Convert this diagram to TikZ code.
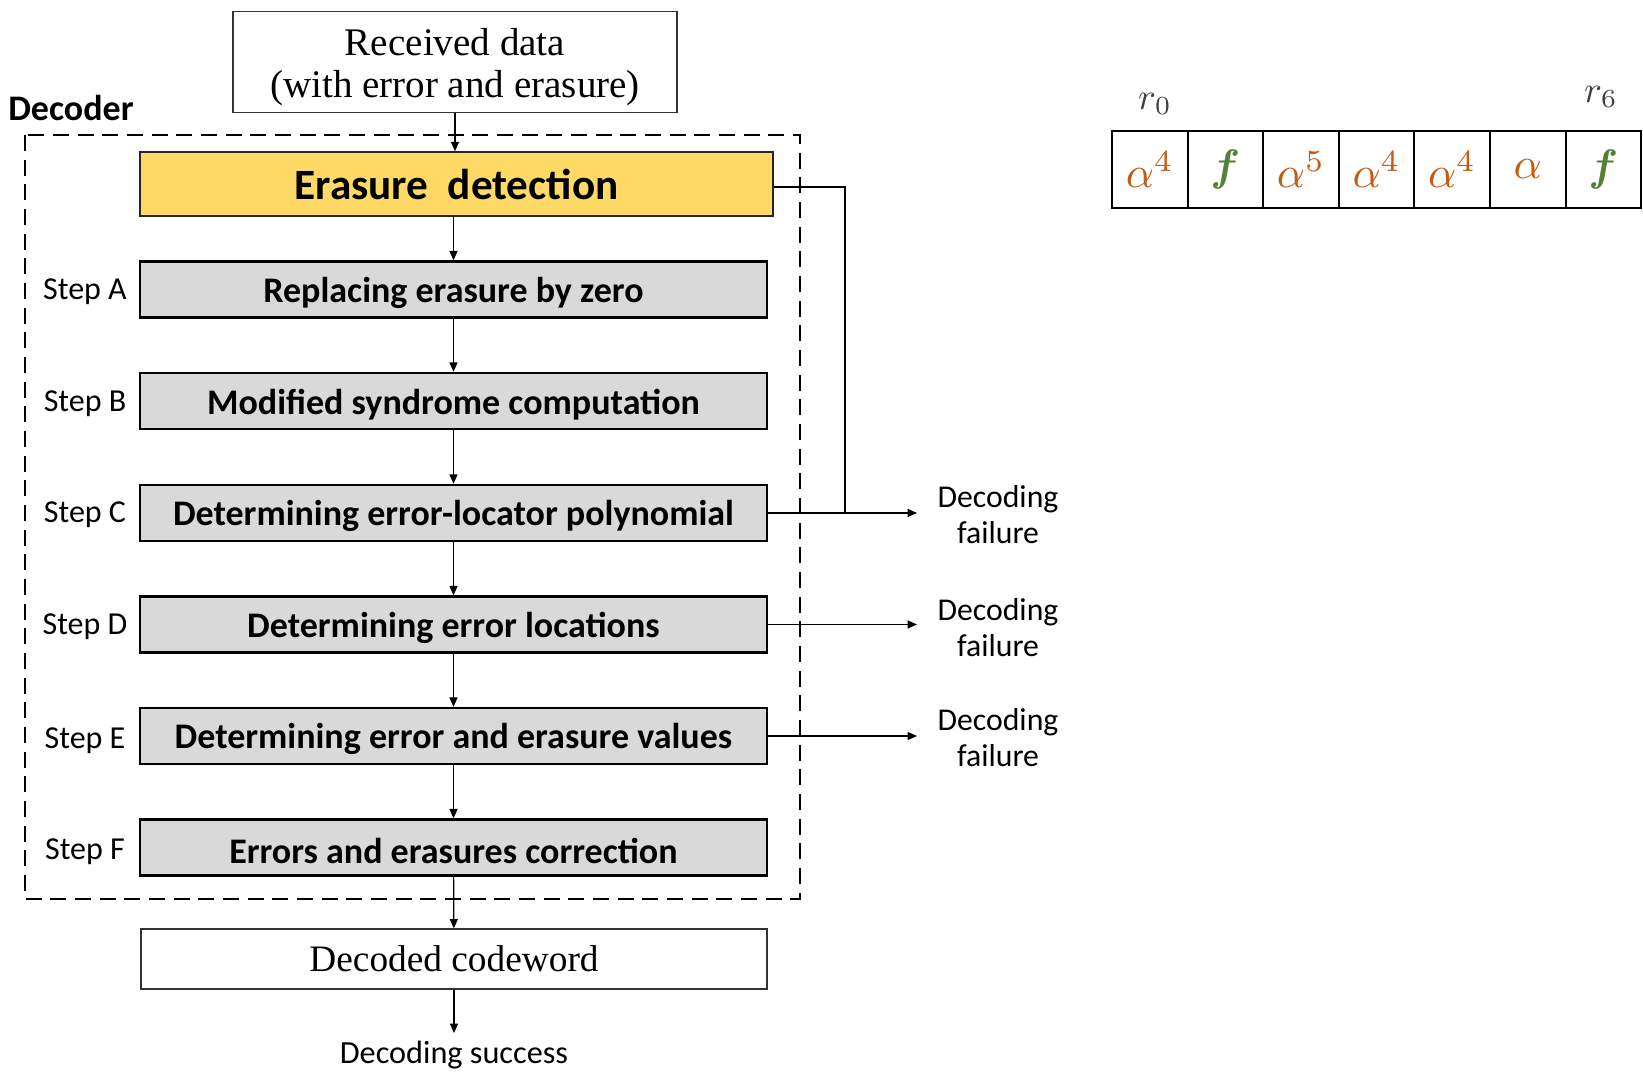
\documentclass[tikz,border=0pt]{standalone}
\usepackage{amsmath,amssymb}
\usepackage{fontspec}
\setmainfont{Liberation Serif}
\newfontfamily\calib{Carlito}
\usetikzlibrary{arrows.meta,positioning}
\definecolor{edfill}{HTML}{FFD966}
\definecolor{stepfill}{HTML}{D9D9D9}
\definecolor{alphacol}{HTML}{C55A11}
\definecolor{fcol}{HTML}{548235}
\definecolor{rcol}{HTML}{404040}
\newcommand\cellmath[1]{\scalebox{3.3}{$#1$}}
\newcommand\lowtext[1]{\raisebox{-2.5pt}[\height][\depth]{#1}}
\newcommand\lowertext[1]{\raisebox{-3.5pt}[\height][\depth]{#1}}
\begin{document}
\begin{tikzpicture}[x=0.75pt,y=-0.75pt,
  stepbox/.style={draw=black,line width=1.8pt,fill=stepfill,minimum width=470.25pt,minimum height=42pt,inner sep=0pt,font=\calib\bfseries\fontsize{27}{31}\selectfont},
  steplabel/.style={font=\calib\fontsize{24}{28}\selectfont,inner sep=0pt},
  failtext/.style={font=\calib\fontsize{23.8}{27}\selectfont,align=center,inner sep=0pt},
  plainbox/.style={draw=black!80,line width=0.9pt,fill=white,inner sep=0pt,align=center},
  conn/.style={line width=0.9pt,-{Triangle[length=7pt,width=6pt]}},
  cell/.style={draw=black,line width=1.6pt,minimum width=56.7pt,minimum height=57.75pt,inner sep=0pt}
]
\useasboundingbox (0,0) rectangle (1643,1074);
\fill[white] (0,0) rectangle (1643,1074);

% dashed decoder box
\draw[line width=1.7pt,dash pattern=on 12pt off 6.5pt] (25,135) rectangle (800,899);
\node[anchor=west,inner sep=0pt,font=\calib\bfseries\fontsize{27}{30}\selectfont] (declab) at (8,108) {Decoder};

% received data
\node[plainbox,minimum width=333pt,minimum height=75.75pt,font=\fontsize{29.3}{31.5}\selectfont] (rec) at (455,62) {\lowertext{Received data}\\\lowertext{(with error and erasure)}};

% erasure detection
\node[draw=black!85,line width=1.2pt,fill=edfill,minimum width=474.75pt,minimum height=48pt,inner sep=0pt,font=\calib\bfseries\fontsize{32.4}{36}\selectfont] (ED) at (456.5,184) {Erasure\ \ detection};

% steps
\node[stepbox] (A) at (453.5,289.5) {\lowtext{Replacing erasure by zero}};
\node[stepbox] (B) at (453.5,401) {\lowtext{Modified syndrome computation}};
\node[stepbox] (C) at (453.5,513) {\lowtext{Determining error-locator polynomial}};
\node[stepbox] (D) at (453.5,624.5) {\lowtext{Determining error locations}};
\node[stepbox] (E) at (453.5,736) {\lowtext{Determining error and erasure values}};
\node[stepbox] (F) at (453.5,847.5) {\lowtext{Errors and erasures correction}};

\node[steplabel] (la) at (85,292) {Step A};
\node[steplabel] (lb) at (85,404) {Step B};
\node[steplabel] (lc) at (85,515) {Step C};
\node[steplabel] (ld) at (85,627) {Step D};
\node[steplabel] (le) at (85,741) {Step E};
\node[steplabel] (lf) at (85,852) {Step F};

% decoded codeword
\node[plainbox,minimum width=469.5pt,minimum height=45pt,font=\fontsize{28}{32}\selectfont] (cw) at (454,959) {Decoded codeword};
\node[font=\calib\fontsize{24.2}{28}\selectfont,inner sep=0pt] (succ) at (454,1055) {Decoding success};
\coordinate (succtop) at (454,1033);

% failure texts
\node[failtext] (f1) at (998,515) {Decoding\\failure};
\node[failtext] (f2) at (998,628) {Decoding\\failure};
\node[failtext] (f3) at (998,738) {Decoding\\failure};
\coordinate (a1) at (917,513);
\coordinate (a2) at (917,624.5);
\coordinate (a3) at (917,736);
\coordinate (bend1) at (845,187);
\coordinate (bend2) at (845,513);

% vertical connectors
\draw[conn] (rec.south) -- (rec.south |- ED.north);
\draw[conn] (ED.south -| A.north) -- (A.north);
\draw[conn] (A) -- (B);
\draw[conn] (B) -- (C);
\draw[conn] (C) -- (D);
\draw[conn] (D) -- (E);
\draw[conn] (E) -- (F);
\draw[conn] (F) -- (cw);
\draw[conn] (cw.south) -- (succtop);

% failure connectors
\draw[line width=0.9pt] (ED.east |- bend1) -- (bend1) -- (bend2);
\draw[conn] (C.east) -- (a1);
\draw[conn] (D.east) -- (a2);
\draw[conn] (E.east) -- (a3);

% array
\foreach \i/\v in {0/{\color{alphacol}\cellmath{\alpha^4}},1/{\color{fcol}\cellmath{\boldsymbol{f}}},2/{\color{alphacol}\cellmath{\alpha^5}},3/{\color{alphacol}\cellmath{\alpha^4}},4/{\color{alphacol}\cellmath{\alpha^4}},5/{\color{alphacol}\cellmath{\alpha}},6/{\color{fcol}\cellmath{\boldsymbol{f}}}}{
  \node[cell] (c\i) at ({1149.8+75.6*\i},169.5) {\v};
}
\node[text=rcol,inner sep=0pt] (r0) at (1155,104) {\scalebox{2.8}{$r_0$}};
\node[text=rcol,inner sep=0pt] (r6) at (1601,97) {\scalebox{2.8}{$r_6$}};
\end{tikzpicture}
\end{document}
